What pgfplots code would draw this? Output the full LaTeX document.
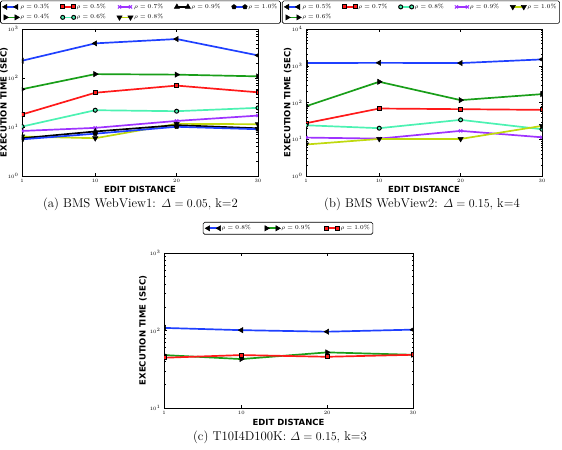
\documentclass[border=0pt]{standalone}
\usepackage{pgfplots}
\pgfplotsset{compat=1.18}
\usepackage{amsmath}
\usepackage{fontspec}
\newfontfamily\dejavu{DejaVu Sans}
\definecolor{cB}{rgb}{0.12,0.25,1}
\definecolor{cG}{rgb}{0.1,0.62,0.1}
\definecolor{cR}{rgb}{1,0.1,0.1}
\definecolor{cC}{rgb}{0.3,0.95,0.7}
\definecolor{cP}{rgb}{0.62,0.2,1}
\definecolor{cY}{rgb}{0.75,0.85,0.05}
\tikzset{
  sL/.style={line width=1.7pt, mark=triangle*, mark size=3bp, mark options={rotate=90, fill=black, draw=black, line width=0.5pt, solid}},
  sRt/.style={line width=1.7pt, mark=triangle*, mark size=3bp, mark options={rotate=-90, fill=black, draw=black, line width=0.5pt, solid}},
  sSq/.style={line width=1.7pt, mark=square*, mark size=2bp, mark options={draw=black, line width=1pt, solid}},
  sCi/.style={line width=1.7pt, mark=*, mark size=2bp, mark options={draw=black, line width=1pt, solid}},
  sX/.style={line width=1.7pt, mark=x, mark size=2.2bp, mark options={line width=1pt, solid}},
  sDn/.style={line width=1.7pt, mark=triangle*, mark size=3bp, mark options={rotate=180, fill=black, draw=black, line width=0.5pt, solid}},
  sUp/.style={line width=1.7pt, mark=triangle*, mark size=3bp, mark options={fill=black, draw=black, line width=0.5pt, solid}},
  sPe/.style={line width=1.7pt, mark=pentagon*, mark size=2.4bp, mark options={fill=black, draw=black, line width=0.5pt, solid}},
}
\pgfplotsset{
  legend image code/.code={\draw[mark repeat=1,mark phase=1,#1] plot coordinates {(0bp,0bp) (11bp,0bp)};},
  every axis/.append style={
    scale only axis,
    xmin=1, xmax=30,
    xtick={1,10,20,30},
    tick align=inside,
    major tick length=3bp,
    minor tick length=1.5bp,
    tick style={black, line width=0.4pt},
    axis line style={line width=0.6pt},
    tick label style={font=\fontsize{5}{6}\selectfont},
    label style={font=\dejavu\bfseries\fontsize{8.5}{10}\selectfont},
    clip marker paths=true,
    legend cell align=left,
    legend style={draw=black, line width=0.6pt, rounded corners=1.5bp,
      fill=white,
      font=\fontsize{6}{7}\selectfont, inner sep=2bp, row sep=2.5bp,
      nodes={inner sep=1bp},
      /tikz/every even column/.append style={column sep=10bp}},
  },
}
\begin{document}
\begin{tikzpicture}
\path[use as bounding box] (0bp,0bp) rectangle (562bp,450bp);
% ---------------- (a)
\begin{axis}[at={(22bp,274bp)}, anchor=south west, width=236bp, height=147bp,
  ymode=log, ymin=1, ymax=1000,
  xlabel={EDIT DISTANCE}, ylabel={EXECUTION TIME (SEC)},
  xlabel style={at={(axis description cs:0.5,-0.088)}, anchor=center},
  ylabel style={at={(axis description cs:-0.076,0.5)}, anchor=center},
  legend columns=5,
  legend style={at={(axis description cs:0.502,1.193)}, anchor=north}]
\addlegendimage{sL, cB}\addlegendentry{$\rho=0.3\%$}
\addlegendimage{sSq, cR}\addlegendentry{$\rho=0.5\%$}
\addlegendimage{sX, cP}\addlegendentry{$\rho=0.7\%$}
\addlegendimage{sUp, black}\addlegendentry{$\rho=0.9\%$}
\addlegendimage{sPe, cB}\addlegendentry{$\rho=1.0\%$}
\addlegendimage{sRt, cG}\addlegendentry{$\rho=0.4\%$}
\addlegendimage{sCi, cC}\addlegendentry{$\rho=0.6\%$}
\addlegendimage{sDn, cY}\addlegendentry{$\rho=0.8\%$}
\addplot[sL, cB, forget plot] coordinates {(1,225)(10,509)(20,624)(30,289)};
\addplot[sRt, cG, forget plot] coordinates {(1,59)(10,120)(20,117)(30,108)};
\addplot[sSq, cR, forget plot] coordinates {(1,18)(10,50)(20,70)(30,51)};
\addplot[sCi, cC, forget plot] coordinates {(1,10.2)(10,22)(20,21)(30,24.6)};
\addplot[sX, cP, forget plot] coordinates {(1,8.3)(10,9.6)(20,13.3)(30,17.1)};
\addplot[sDn, cY, forget plot] coordinates {(1,6.4)(10,5.9)(20,11.6)(30,11.4)};
\addplot[sUp, black, forget plot] coordinates {(1,5.9)(10,8.1)(20,10.9)(30,9.4)};
\addplot[sPe, cB, forget plot] coordinates {(1,5.6)(10,7.3)(20,10.1)(30,9.0)};
\end{axis}
% ---------------- (b)
\begin{axis}[at={(306bp,274bp)}, anchor=south west, width=236bp, height=147bp,
  ymode=log, ymin=1, ymax=10000,
  xlabel={EDIT DISTANCE}, ylabel={EXECUTION TIME (SEC)},
  xlabel style={at={(axis description cs:0.5,-0.088)}, anchor=center},
  ylabel style={at={(axis description cs:-0.078,0.5)}, anchor=center},
  legend columns=5,
  legend style={at={(axis description cs:0.487,1.193)}, anchor=north}]
\addlegendimage{sL, cB}\addlegendentry{$\rho=0.5\%$}
\addlegendimage{sSq, cR}\addlegendentry{$\rho=0.7\%$}
\addlegendimage{sCi, cC}\addlegendentry{$\rho=0.8\%$}
\addlegendimage{sX, cP}\addlegendentry{$\rho=0.9\%$}
\addlegendimage{sDn, cY}\addlegendentry{$\rho=1.0\%$}
\addlegendimage{sRt, cG}\addlegendentry{$\rho=0.6\%$}
\addplot[sL, cB, forget plot] coordinates {(1,1183)(10,1200)(20,1183)(30,1489)};
\addplot[sRt, cG, forget plot] coordinates {(1,79)(10,366)(20,116)(30,169)};
\addplot[sSq, cR, forget plot] coordinates {(1,27.3)(10,68.6)(20,65.8)(30,63)};
\addplot[sCi, cC, forget plot] coordinates {(1,24)(10,20)(20,33.7)(30,18.7)};
\addplot[sX, cP, forget plot] coordinates {(1,11.1)(10,10.4)(20,16.9)(30,11.3)};
\addplot[sDn, cY, forget plot] coordinates {(1,7.2)(10,10.2)(20,10.2)(30,23.1)};
\end{axis}
% ---------------- (c)
\begin{axis}[at={(164bp,42bp)}, anchor=south west, width=249bp, height=155bp,
  ymode=log, ymin=10, ymax=1000,
  xlabel={EDIT DISTANCE}, ylabel={EXECUTION TIME (SEC)},
  xlabel style={at={(axis description cs:0.5,-0.09)}, anchor=center},
  ylabel style={at={(axis description cs:-0.084,0.5)}, anchor=center},
  legend columns=3,
  legend style={at={(axis description cs:0.498,1.2)}, anchor=north,
    /tikz/every even column/.append style={column sep=13bp}}]
\addplot[sL, cB] coordinates {(1,108)(10,101)(20,96.5)(30,102.6)};
\addlegendentry{$\rho=0.8\%$}
\addplot[sRt, cG] coordinates {(1,48.2)(10,42.8)(20,52.2)(30,48.6)};
\addlegendentry{$\rho=0.9\%$}
\addplot[sSq, cR] coordinates {(1,44.5)(10,48.2)(20,45.8)(30,48.6)};
\addlegendentry{$\rho=1.0\%$}
\end{axis}
% captions
\node[font=\fontsize{12.8}{15}\selectfont] at (140.5bp,246bp) {(a) BMS WebView1: $\varDelta = 0.05$, k=2};
\node[font=\fontsize{12.8}{15}\selectfont] at (422bp,246bp) {(b) BMS WebView2: $\varDelta = 0.15$, k=4};
\node[font=\fontsize{12.8}{15}\selectfont] at (280bp,13bp) {(c) T10I4D100K: $\varDelta = 0.15$, k=3};
\end{tikzpicture}
\end{document}
